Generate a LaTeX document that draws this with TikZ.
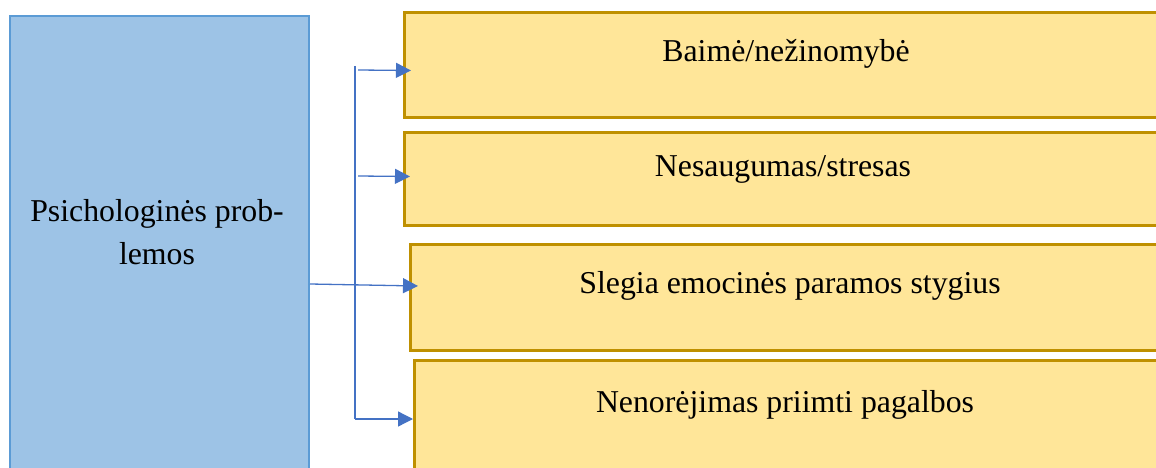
\documentclass[tikz,border=0pt]{standalone}
\usepackage{fontspec}
\setmainfont{Liberation Serif}
\usetikzlibrary{arrows.meta, calc}
\definecolor{boxblue}{HTML}{9DC3E6}
\definecolor{edgeblue}{HTML}{5B9BD5}
\definecolor{boxyellow}{HTML}{FFE699}
\definecolor{edgeyellow}{HTML}{BF9000}
\definecolor{arrowblue}{HTML}{4472C4}
\tikzset{
  mainbox/.style={draw=edgeblue, fill=boxblue, line width=2pt, inner sep=0pt, anchor=north west, minimum width=299pt, minimum height=520pt},
  itembox/.style={draw=edgeyellow, fill=boxyellow, line width=3pt, inner sep=0pt, anchor=north west, minimum width=780pt},
  link/.style={-{Triangle[length=15pt, width=15pt]}, line width=1.3pt, color=arrowblue},
  spine/.style={line width=1.1pt, color=arrowblue},
  every node/.append style={font=\fontsize{31.8}{43}\selectfont}
}

\begin{document}
\begin{tikzpicture}[x=1pt, y=-1pt]
\useasboundingbox (0,0) rectangle (1156,468);
\node[mainbox] (main) at (9,15) {};
\node[itembox, minimum height=105pt] (b1) at (403,11) {};
\node[itembox, minimum height=93pt] (b2) at (403,131) {};
\node[itembox, minimum height=106pt] (b3) at (409,243) {};
\node[itembox, minimum height=150pt] (b4) at (413,359) {};
\node[align=center, inner sep=0pt] (mainlbl) at (157,232) {Psichologinės prob-\\lemos};
\node[anchor=base, inner sep=0pt] (l1) at (786,61.7) {Baimė/nežinomybė};
\node[anchor=base, inner sep=0pt] (l2) at (783,176.7) {Nesaugumas/stresas};
\node[anchor=base, inner sep=0pt] (l3) at (790,293.3) {Slegia emocinės paramos stygius};
\node[anchor=base, inner sep=0pt] (l4) at (785,412.3) {Nenorėjimas priimti pagalbos};
\coordinate (top) at (355,66);
\coordinate (bottom) at (355,419);
\coordinate (m3) at (main.east |- 0,284);
\draw[spine] (top) -- (bottom);
\draw[link] (358,70) -- (411,70.5);
\draw[link] (358,176) -- (410,176.5);
\draw[link] (m3) -- (418,286);
\draw[link] (bottom) -- (413,419);
\end{tikzpicture}
\end{document}
